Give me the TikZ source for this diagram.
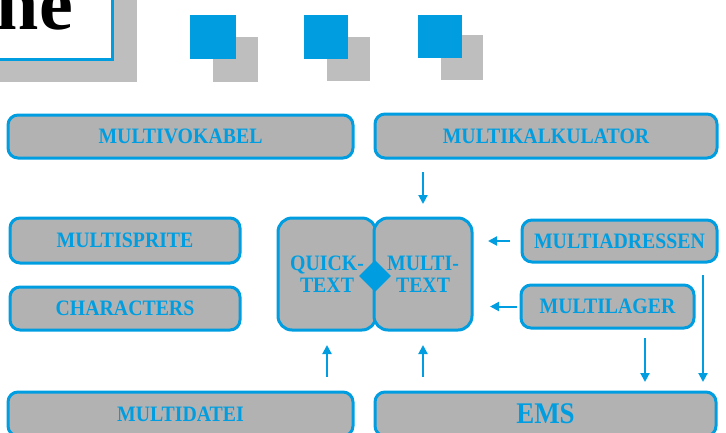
\documentclass[tikz,border=0pt]{standalone}
\usepackage{fontspec}
\setmainfont{Liberation Serif}
\newfontfamily\boxfont[FakeStretch=0.9]{Liberation Serif}
\usepackage{tikz}
\usetikzlibrary{shapes.geometric, arrows.meta, positioning, calc}
\definecolor{msblue}{RGB}{0,158,224}
\definecolor{boxgray}{RGB}{178,178,178}
\definecolor{shadegray}{RGB}{190,190,190}
\tikzset{
  progbox/.style={
    draw=msblue, line width=3pt, rounded corners=10pt, align=center,
    fill=boxgray, text=msblue, inner sep=0pt, outer sep=0pt,
    font=\boxfont\bfseries\fontsize{22}{22}\selectfont
  },
  progarrow/.style={
    -{Triangle[length=9pt,width=9pt]}, line width=2pt, draw=msblue
  },
}

\begin{document}
\begin{tikzpicture}[x=1pt, y=-1pt,
  widebox/.style={progbox, minimum width=345pt, minimum height=44pt},
  sidebox/.style={progbox, minimum width=230pt, minimum height=44pt},
  textbox/.style={progbox, rounded corners=14pt, minimum width=98pt,
    minimum height=112pt},
]
  \useasboundingbox (0,0) rectangle (726,432);
  \clip (0,0) rectangle (726,432);

  % Title box with shadow
  \fill[shadegray] (-10,-10) rectangle (137,82);
  \filldraw[fill=white, draw=msblue, line width=3pt] (-10,-10) rectangle (112.5,59.5);
  \node[anchor=base east, inner sep=0pt, font=\bfseries\fontsize{76}{76}\selectfont]
    (title) at (73,29) {ne};

  % Squares
  \fill[shadegray] (213,37) rectangle (258,82);
  \fill[msblue] (190,15) rectangle (236,59);
  \fill[shadegray] (327,37) rectangle (370,81);
  \fill[msblue] (304,15) rectangle (348,59);
  \fill[shadegray] (441,35) rectangle (483,80);
  \fill[msblue] (418,15) rectangle (462,58);

  % Top row
  \node[widebox, minimum height=43pt] (vokabel) at (180.5,136.5) {MULTIVOKABEL};
  \node[widebox, minimum width=342pt] (kalk) at (546,136) {MULTIKALKULATOR};

  % Left column
  \node[sidebox, minimum height=45pt] (sprite) at (125,240.5) {MULTISPRITE};
  \node[sidebox, minimum height=43pt, below=24pt of sprite] (chars) {CHARACTERS};

  % Text programs
  \node[textbox] (quick) at (327,274) {QUICK-\\TEXT};
  \node[textbox, right=-2pt of quick] (multitext) {MULTI-\\TEXT};
  \node[diamond, fill=msblue, minimum size=32pt, inner sep=0pt] (link)
    at ($(quick.east)!0.5!(multitext.west)+(0,2)$) {};

  % Right column
  \node[progbox, minimum width=195pt, minimum height=42pt] (adressen)
    at (619.5,241) {MULTIADRESSEN};
  \node[progbox, minimum width=173pt, minimum height=43pt] (lager)
    at (607.5,306.5) {MULTILAGER};

  % Bottom row
  \node[widebox] (datei) at (180.5,414) {MULTIDATEI};
  \node[widebox, minimum width=341pt, font=\boxfont\bfseries\fontsize{30}{30}\selectfont]
    (ems) at (545.5,414) {EMS};

  % Arrows
  \draw[progarrow, shorten <=14pt, shorten >=14pt]
    (multitext.north |- kalk.south) -- (multitext.north);
  \draw[progarrow, shorten <=12pt, shorten >=16pt]
    (adressen.west) -- (adressen.west -| multitext.east);
  \draw[progarrow, shorten <=4pt, shorten >=18pt]
    (lager.west) -- (lager.west -| multitext.east);
  \draw[progarrow, shorten <=15pt, shorten >=15pt]
    (quick.south |- datei.north) -- (quick.south);
  \draw[progarrow, shorten <=15pt, shorten >=15pt]
    (multitext.south |- ems.north) -- (multitext.south);
  \draw[progarrow, shorten <=10pt, shorten >=10pt]
    ([xshift=-49pt]lager.south east) -- ([xshift=-49pt]lager.south east |- ems.north);
  \draw[progarrow, shorten <=13pt, shorten >=10pt]
    ([xshift=-14pt]adressen.south east) -- ([xshift=-14pt]adressen.south east |- ems.north);
\end{tikzpicture}
\end{document}
